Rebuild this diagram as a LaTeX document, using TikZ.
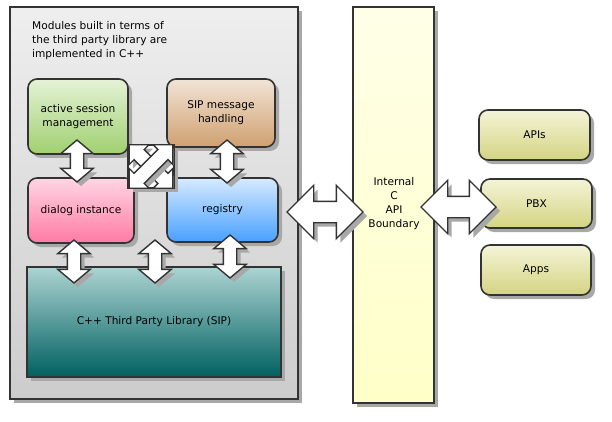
\documentclass[tikz,border=0pt]{standalone}
\usepackage{fontspec}
\setmainfont{DejaVu Sans}
\usetikzlibrary{shapes.arrows,shadows}
\definecolor{edge}{HTML}{333333}
\definecolor{shad}{HTML}{A8A8A8}
\tikzset{
  shadowed/.style={drop shadow={shadow xshift=4pt,shadow yshift=-4pt,opacity=1,fill=shad}},
  boxbase/.style={draw=edge,line width=1.6pt,inner sep=0pt,shadowed,font=\fontsize{10.6}{14}\selectfont,align=center,text=black},
  modbox/.style={boxbase,rounded corners=9pt},
  sqbox/.style={boxbase},
  dblarrow/.style={double arrow,draw=edge,fill=white,line width=1.4pt,inner sep=0pt,shadowed,double arrow head indent=0pt},
  smallarrow/.style={dblarrow,double arrow head extend=9.5pt,double arrow tip angle=100},
  bigarrow/.style={dblarrow,double arrow head extend=16pt,double arrow tip angle=90},
  crossarrow/.style={dblarrow,double arrow head extend=7pt,double arrow tip angle=90,minimum height=62pt},
  lbl/.style={font=\fontsize{10.6}{14}\selectfont,align=left,inner sep=0pt,text=black}
}
\newcommand{\shaft}[1]{\rule{0pt}{#1}}
\begin{document}
\begin{tikzpicture}[x=1pt,y=-1pt]
\useasboundingbox (0,0) rectangle (612,422);
% outer module container
\node[sqbox,top color=gray!13,bottom color=gray!40,minimum width=288pt,minimum height=392pt] (outer) at (154,203) {};
\node[lbl,anchor=north west] (caption) at (32,21) {Modules built in terms of\\the third party library are\\implemented in C++};
% API boundary
\node[sqbox,top color={rgb,255:red,255;green,255;blue,232},bottom color={rgb,255:red,255;green,255;blue,200},minimum width=81pt,minimum height=396pt] (api) at (393.5,205) {};
\node[lbl,align=center] (apitext) at (394,204) {Internal\\C\\API\\Boundary};
% modules
\node[modbox,top color={rgb,255:red,228;green,242;blue,214},bottom color={rgb,255:red,160;green,208;blue,112},minimum width=100pt,minimum height=75pt] (active) at (78,116.5) {active session\\management};
\node[modbox,top color={rgb,255:red,242;green,228;blue,214},bottom color={rgb,255:red,208;green,160;blue,112},minimum width=108pt,minimum height=68pt] (sip) at (221,113) {SIP message\\handling};
\node[modbox,top color={rgb,255:red,255;green,214;blue,228},bottom color={rgb,255:red,255;green,122;blue,164},minimum width=106pt,minimum height=65pt] (dialog) at (81,210.5) {dialog instance};
\node[modbox,top color={rgb,255:red,214;green,234;blue,255},bottom color={rgb,255:red,72;green,160;blue,255},minimum width=111pt,minimum height=64pt] (registry) at (222.5,210) {registry};
\node[sqbox,top color={rgb,255:red,172;green,212;blue,210},bottom color={rgb,255:red,0;green,96;blue,96},minimum width=254pt,minimum height=110pt] (lib) at (154,322) {C++ Third Party Library (SIP)};
% external boxes
\node[modbox,top color={rgb,255:red,244;green,244;blue,216},bottom color={rgb,255:red,212;green,212;blue,130},minimum width=111pt,minimum height=50pt] (apis) at (534.5,135) {APIs};
\node[modbox,top color={rgb,255:red,244;green,244;blue,216},bottom color={rgb,255:red,212;green,212;blue,130},minimum width=111pt,minimum height=49pt] (pbx) at (536.5,203.5) {PBX};
\node[modbox,top color={rgb,255:red,244;green,244;blue,216},bottom color={rgb,255:red,212;green,212;blue,130},minimum width=110pt,minimum height=50pt] (apps) at (536,270) {Apps};
% crossing arrows square
\node[sqbox,fill=white,line width=1.4pt,minimum width=45pt,minimum height=43pt] (cross) at (151,166.5) {};
\begin{scope}
\clip (cross.south west) rectangle (cross.north east);
\node[crossarrow,rotate=-45] (xa) at (151,166.5) {\shaft{13pt}};
\node[crossarrow,rotate=45] (xb) at (151,166.5) {\shaft{13pt}};
\end{scope}
\draw[edge,line width=1.4pt] (cross.south west) rectangle (cross.north east);
% vertical small arrows
\node[smallarrow,minimum height=42pt,rotate=90] (a1) at (77,161) {\shaft{12pt}};
\node[smallarrow,minimum height=43pt,rotate=90] (a2) at (227,161.5) {\shaft{12pt}};
\node[smallarrow,minimum height=43pt,rotate=90] (a3) at (74,261.5) {\shaft{12pt}};
\node[smallarrow,minimum height=43pt,rotate=90] (a4) at (155,261.5) {\shaft{12pt}};
\node[smallarrow,minimum height=43pt,rotate=90] (a5) at (230,256.5) {\shaft{12pt}};
% big arrows
\node[bigarrow,minimum height=76pt] (a6) at (325,212) {\shaft{20pt}};
\node[bigarrow,minimum height=75pt] (a7) at (458.5,207) {\shaft{20pt}};
\end{tikzpicture}
\end{document}
